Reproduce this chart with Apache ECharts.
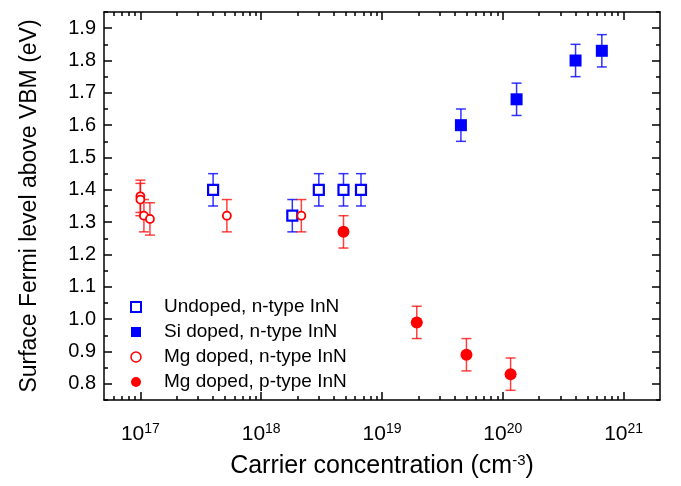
<!DOCTYPE html>
<html>
<head>
<meta charset="utf-8">
<script src="https://cdn.jsdelivr.net/npm/echarts@6/dist/echarts.min.js"></script>
<style>
html,body{margin:0;padding:0;background:#fff;}
#chart{width:681px;height:486px;}
</style>
</head>
<body>
<div id="chart"></div>
<script>
// ---- data (carrier concentration in cm^-3, surface Fermi level in eV) ----
const undopedX = [4.0e17, 1.81e18, 3.0e18, 4.8e18, 6.7e18];
const undopedY = [1.40, 1.32, 1.40, 1.40, 1.40];
const undopedErr = [0.05, 0.05, 0.05, 0.05, 0.05];

const siX = [4.5e19, 1.3e20, 4.0e20, 6.6e20];
const siY = [1.60, 1.68, 1.80, 1.83];
const siErr = [0.05, 0.05, 0.05, 0.05];

const mgnX = [1.0e17, 1.0e17, 1.07e17, 1.2e17, 5.2e17, 2.15e18];
const mgnY = [1.38, 1.37, 1.32, 1.31, 1.32, 1.32];
const mgnErr = [0.05, 0.05, 0.05, 0.05, 0.05, 0.05];

const mgpX = [4.8e18, 1.94e19, 5.0e19, 1.16e20];
const mgpY = [1.27, 0.99, 0.89, 0.83];
const mgpErr = [0.05, 0.05, 0.05, 0.05];

const seriesNames = ['Undoped, n-type InN', 'Si doped, n-type InN', 'Mg doped, n-type InN', 'Mg doped, p-type InN'];

// ---- axes ----
const xRange = [5e16, 2e21];
const xTickExponents = [17, 18, 19, 20, 21];
const yRange = [0.75, 1.95];
const yMajorTicks = [0.8, 0.9, 1.0, 1.1, 1.2, 1.3, 1.4, 1.5, 1.6, 1.7, 1.8, 1.9];
const yMinorTicks = [0.75, 0.85, 0.95, 1.05, 1.15, 1.25, 1.35, 1.45, 1.55, 1.65, 1.75, 1.85, 1.95];

const xMinL = Math.log10(xRange[0]), xMaxL = Math.log10(xRange[1]);
const xMinor = [];
for (let d = 16; d <= 21; d++) {
  for (let k = 2; k <= 9; k++) {
    const v = d + Math.log10(k);
    if (v > xMinL && v < xMaxL) xMinor.push(v);
  }
}

const BLUE = '#0000ff', RED = '#ff0000';
const FONT = '"Liberation Sans", Arial, sans-serif';

function pts(xs, ys) { return xs.map((x, i) => [x, ys[i]]); }
function errPts(xs, ys, es) { return xs.map((x, i) => [x, ys[i], es[i]]); }

function errRender(color) {
  return function (params, api) {
    const x = api.value(0), y = api.value(1), e = api.value(2);
    const lo = api.coord([x, y - e]);
    const hi = api.coord([x, y + e]);
    const hw = 5;
    const style = { stroke: color, lineWidth: 1.5, fill: null };
    return {
      type: 'group',
      children: [
        { type: 'line', shape: { x1: lo[0], y1: lo[1], x2: hi[0], y2: hi[1] }, style: style },
        { type: 'line', shape: { x1: lo[0] - hw, y1: lo[1], x2: lo[0] + hw, y2: lo[1] }, style: style },
        { type: 'line', shape: { x1: hi[0] - hw, y1: hi[1], x2: hi[0] + hw, y2: hi[1] }, style: style }
      ]
    };
  };
}

const lineStyle = { color: '#000', width: 1.5 };

function decoX(position, values, len, showLine, showLabel) {
  return {
    type: 'value', position: position, min: xMinL, max: xMaxL, gridIndex: 0,
    axisLine: { show: showLine, onZero: false, lineStyle: lineStyle },
    axisTick: { show: true, inside: true, length: len, customValues: values, lineStyle: lineStyle },
    axisLabel: showLabel ? {
      show: true, customValues: values, margin: 22,
      formatter: function (v) { return '{b|10}{s|' + Math.round(v) + '}'; },
      rich: {
        b: { fontSize: 21, fontFamily: FONT, color: '#000', lineHeight: 24 },
        s: { fontSize: 14, fontFamily: FONT, color: '#000', verticalAlign: 'top', padding: [0, 0, 10, 0] }
      }
    } : { show: false },
    splitLine: { show: false }
  };
}
function decoY(position, values, len, showLine, showLabel) {
  return {
    type: 'value', position: position, min: yRange[0], max: yRange[1], gridIndex: 0,
    axisLine: { show: showLine, onZero: false, lineStyle: lineStyle },
    axisTick: { show: true, inside: true, length: len, customValues: values, lineStyle: lineStyle },
    axisLabel: showLabel ? {
      show: true, customValues: values, margin: 8,
      fontSize: 20, fontFamily: FONT, color: '#000',
      formatter: function (v) { return v.toFixed(1); }
    } : { show: false },
    splitLine: { show: false }
  };
}

const xAxes = [
  { type: 'log', min: xRange[0], max: xRange[1], logBase: 10, show: false, position: 'bottom' },
  Object.assign(decoX('bottom', xTickExponents, 8, true, true), {
    name: '{t|Carrier concentration (cm}{u|-3}{t|)}',
    nameLocation: 'middle', nameGap: 53,
    nameTextStyle: {
      rich: {
        t: { fontSize: 25, fontFamily: FONT, color: '#000' },
        u: { fontSize: 15, fontFamily: FONT, color: '#000', verticalAlign: 'top', padding: [0, 0, 12, 0] }
      }
    }
  }),
  decoX('bottom', xMinor, 4, false, false),
  decoX('top', xTickExponents, 8, true, false),
  decoX('top', xMinor, 4, false, false)
];
const yAxes = [
  Object.assign(decoY('left', yMajorTicks, 8, true, true), {
    name: 'Surface Fermi level above VBM (eV)',
    nameLocation: 'middle', nameGap: 63, nameRotate: 90,
    nameTextStyle: { fontSize: 23, fontFamily: FONT, color: '#000' }
  }),
  decoY('left', yMinorTicks, 4, false, false),
  decoY('right', yMajorTicks, 8, true, false),
  decoY('right', yMinorTicks, 4, false, false)
];

const option = {
  animation: false,
  backgroundColor: '#fff',
  grid: { left: 104, right: 21, top: 12, bottom: 86, containLabel: false },
  xAxis: xAxes,
  yAxis: yAxes,
  legend: {
    orient: 'vertical', left: 125, top: 292,
    itemWidth: 10, itemHeight: 10, itemGap: 5,
    textStyle: { fontSize: 19, fontFamily: FONT, color: '#000', lineHeight: 20, padding: [0, 0, 0, 18] },
    data: [
      { name: seriesNames[0], icon: 'rect', itemStyle: { color: '#fff', borderColor: BLUE, borderWidth: 2 } },
      { name: seriesNames[1], icon: 'rect', itemStyle: { color: BLUE, borderColor: BLUE, borderWidth: 0 } },
      { name: seriesNames[2], icon: 'circle', itemStyle: { color: '#fff', borderColor: RED, borderWidth: 1.5 } },
      { name: seriesNames[3], icon: 'circle', itemStyle: { color: RED, borderColor: RED, borderWidth: 0 } }
    ]
  },
  series: [
    { type: 'custom', name: 'err-undoped', xAxisIndex: 0, yAxisIndex: 0, renderItem: errRender('rgba(0,0,255,0.8)'), data: errPts(undopedX, undopedY, undopedErr), z: 1 },
    { type: 'custom', name: 'err-si', xAxisIndex: 0, yAxisIndex: 0, renderItem: errRender('rgba(0,0,255,0.8)'), data: errPts(siX, siY, siErr), z: 1 },
    { type: 'custom', name: 'err-mgn', xAxisIndex: 0, yAxisIndex: 0, renderItem: errRender('rgba(255,0,0,0.75)'), data: errPts(mgnX, mgnY, mgnErr), z: 1 },
    { type: 'custom', name: 'err-mgp', xAxisIndex: 0, yAxisIndex: 0, renderItem: errRender('rgba(255,0,0,0.75)'), data: errPts(mgpX, mgpY, mgpErr), z: 1 },
    { type: 'scatter', name: seriesNames[0], xAxisIndex: 0, yAxisIndex: 0, symbol: 'rect', symbolSize: 10,
      itemStyle: { color: '#fff', borderColor: BLUE, borderWidth: 2.2, opacity: 1 }, data: pts(undopedX, undopedY), z: 3 },
    { type: 'scatter', name: seriesNames[1], xAxisIndex: 0, yAxisIndex: 0, symbol: 'rect', symbolSize: 12,
      itemStyle: { color: BLUE, opacity: 1 }, data: pts(siX, siY), z: 3 },
    { type: 'scatter', name: seriesNames[2], xAxisIndex: 0, yAxisIndex: 0, symbol: 'circle', symbolSize: 8,
      itemStyle: { color: '#fff', borderColor: RED, borderWidth: 1.8, opacity: 1 }, data: pts(mgnX, mgnY), z: 3 },
    { type: 'scatter', name: seriesNames[3], xAxisIndex: 0, yAxisIndex: 0, symbol: 'circle', symbolSize: 12,
      itemStyle: { color: RED, opacity: 1 }, data: pts(mgpX, mgpY), z: 3 }
  ]
};

const chart = echarts.init(document.getElementById('chart'), null, { renderer: 'canvas' });
chart.setOption(option);
</script>
</body>
</html>
